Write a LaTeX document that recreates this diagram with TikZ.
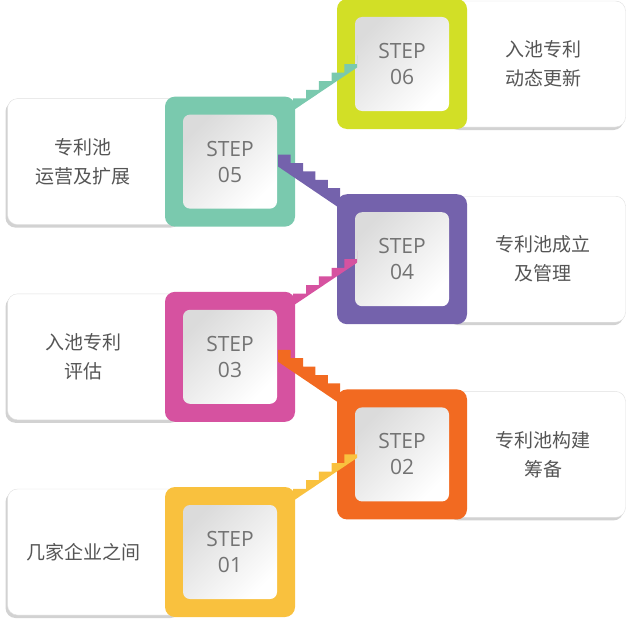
\documentclass[tikz,border=0pt]{standalone}
\usepackage{fontspec}
\setmainfont{Open Sans}
\newfontfamily\cjk{Noto Sans CJK SC}
\usetikzlibrary{calc}
\definecolor{cyellow}{HTML}{F9C13E}
\definecolor{corange}{HTML}{F26A21}
\definecolor{cpink}{HTML}{D652A0}
\definecolor{cpurple}{HTML}{7462AC}
\definecolor{cteal}{HTML}{7AC9AE}
\definecolor{clime}{HTML}{D2DF26}
\definecolor{ctext}{HTML}{555555}
\tikzset{
  frame/.style={rounded corners=10pt, minimum size=130pt, inner sep=0pt},
  stepbox/.style={rounded corners=7pt, minimum size=94pt, inner sep=0pt,
    left color=gray!28, right color=white, shading angle=45,
    align=center, font=\fontsize{21}{26}\selectfont, text=gray!90!black},
  textbox/.style={rounded corners=10pt, minimum width=175pt, minimum height=126pt,
    fill=white, draw=gray!25, align=center, text=ctext,
    font=\cjk\fontsize{19}{28}\selectfont},
  shadowbox/.style={rounded corners=10pt, minimum width=175pt, minimum height=126pt,
    fill=gray!35}
}
\begin{document}
\begin{tikzpicture}[x=1pt,y=-1pt]
\useasboundingbox (0,0) rectangle (628,618);
% text boxes and step squares
\foreach \n/\cx/\bx/\col/\txt in {
  1/230/95/cyellow/{几家企业之间},
  2/402/538/corange/{专利池构建\\筹备},
  3/230/95/cpink/{入池专利\\评估},
  4/402/538/cpurple/{专利池成立\\及管理},
  5/230/95/cteal/{专利池\\运营及扩展},
  6/402/538/clime/{入池专利\\动态更新}}
{
  \pgfmathsetmacro\cy{552-97.6*(\n-1)}
  \node[shadowbox] at (\bx-2,\cy+3) {};
  \node[textbox] (b\n) at (\bx,\cy) {};
  \node[frame, fill=\col] (s\n) at (\cx,\cy) {};
  \node[stepbox] (t\n) at (s\n) {STEP\\0\n};
}
% labels
\foreach \n/\dx/\txt in {1/-12/{几家企业之间}, 2/5/{专利池构建\\筹备},
  3/-12/{入池专利\\评估}, 4/5/{专利池成立\\及管理},
  5/-12/{专利池\\运营及扩展}, 6/5/{入池专利\\动态更新}}
  \node[align=center, text=ctext, font=\cjk\fontsize{19}{29}\selectfont]
    at ($(b\n)+(\dx,0)$) {\txt};
% stairs going up
\foreach \a/\b/\col in {1/2/cyellow, 3/4/cpink, 5/6/cteal}
  \fill[\col] ($(s\a.north east)+(-2,2)$) coordinate (p)
    \foreach \i in {1,...,5}{ -- ++(12.8,0) -- ++(0,-8.6)}
    -- ++(0,12) -- ($(p)+(0,12)$) -- cycle;
% stairs going down
\foreach \a/\b/\col in {3/2/corange, 5/4/cpurple}
  \fill[\col] ($(s\a.east)+(-17,-7)$) coordinate (p)
    \foreach \i in {1,...,5}{ -- ++(12.4,0) -- ++(0,8.4)}
    -- ++(0,12) -- ($(p)+(0,12)$) -- cycle;
\end{tikzpicture}
\end{document}
